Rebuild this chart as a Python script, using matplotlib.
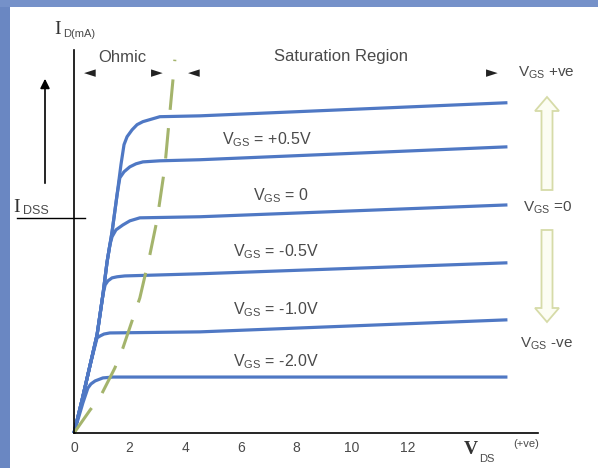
import matplotlib
matplotlib.use("Agg")
import matplotlib.pyplot as plt
from matplotlib.patches import FancyArrow, Rectangle

# JFET output characteristics, I_D (mA) against V_DS (V)
vds_pos = [0, 0.29, 0.58, 0.83, 1.04, 1.19, 1.37, 1.55, 1.69, 1.80, 1.91, 2.09, 2.27, 2.48, 3.09, 4.53, 15.6]
id_pos = [0, 1.53, 3.16, 4.56, 6.42, 7.95, 9.35, 11.07, 12.47, 13.4, 13.77, 14.09, 14.33, 14.47, 14.7, 14.74, 15.35]

vds_p05 = [0, 0.29, 0.58, 0.83, 1.04, 1.19, 1.37, 1.55, 1.65, 1.80, 2.01, 2.23, 2.48, 3.09, 4.53, 15.6]
id_p05 = [0, 1.53, 3.16, 4.56, 6.42, 7.95, 9.35, 11.07, 11.86, 12.14, 12.37, 12.51, 12.6, 12.65, 12.7, 13.3]

vds_0 = [0, 0.29, 0.58, 0.83, 1.04, 1.19, 1.29, 1.37, 1.51, 1.76, 2.01, 2.37, 4.53, 15.6]
id_0 = [0, 1.53, 3.16, 4.56, 6.42, 7.95, 8.74, 9.12, 9.44, 9.67, 9.86, 10.0, 10.05, 10.6]

vds_m05 = [0, 0.29, 0.58, 0.83, 1.04, 1.12, 1.22, 1.37, 1.55, 1.83, 4.53, 15.6]
id_m05 = [0, 1.53, 3.16, 4.56, 6.42, 6.88, 7.07, 7.21, 7.26, 7.30, 7.40, 7.91]

vds_m10 = [0, 0.29, 0.58, 0.83, 0.94, 1.08, 1.29, 4.53, 15.6]
id_m10 = [0, 1.53, 3.16, 4.42, 4.51, 4.60, 4.65, 4.70, 5.26]

vds_m20 = [0, 0.32, 0.50, 0.61, 0.76, 1.04, 1.40, 15.6]
id_m20 = [0, 1.40, 2.09, 2.28, 2.42, 2.56, 2.60, 2.60]

# pinch-off locus (green dashed)
vds_pinch = [0, 0.58, 0.94, 1.47, 1.76, 2.37, 2.73, 2.99, 3.27, 3.45, 3.63]
id_pinch = [0, 1.07, 1.67, 3.02, 3.95, 6.28, 8.28, 9.91, 12.37, 14.88, 17.35]

IDSS = 10.0
x_ticks = [0, 2, 4, 6, 8, 10, 12]
curve_labels = ["+0.5V", "0", "-0.5V", "-1.0V", "-2.0V"]

W, H = 598, 468
BLUE = "#4f78c4"
GREEN = "#a4b46c"
GREY = "#4a4a4a"

plt.rcParams["font.family"] = ["Liberation Sans", "DejaVu Sans"]

fig = plt.figure(figsize=(W / 100, H / 100), dpi=100)
fig.patch.set_facecolor("white")

# main axes: origin at (74, 433) px, top at 50 px, right end at 538 px
ax = fig.add_axes([74 / W, 1 - 433 / H, 464 / W, 383 / H])
ax.set_xlim(0, 16.7)
ax.set_ylim(0, 17.8)
ax.patch.set_alpha(0)
for s in ["top", "right"]:
    ax.spines[s].set_visible(False)
for s in ["left", "bottom"]:
    ax.spines[s].set_linewidth(1.2)
ax.set_yticks([])
ax.set_xticks(x_ticks)
ax.tick_params(axis="x", length=0, pad=6, labelsize=10, labelcolor=GREY)

curves = [(vds_pos, id_pos), (vds_p05, id_p05), (vds_0, id_0),
          (vds_m05, id_m05), (vds_m10, id_m10), (vds_m20, id_m20)]
for xs, ys in curves:
    ax.plot(xs, ys, color=BLUE, lw=2.3, solid_capstyle="butt", solid_joinstyle="round", clip_on=False)

ax.plot(vds_pinch, id_pinch, color=GREEN, lw=2.2, dashes=(10, 6), clip_on=False)

# I_DSS marker line, x in axes fraction, y in data
ax.plot([-0.123, 0.024], [IDSS, IDSS], color="black", lw=1.0,
        transform=ax.get_yaxis_transform(), clip_on=False)

# overlay in pixel coordinates for the annotations
ov = fig.add_axes([0, 0, 1, 1])
ov.set_xlim(0, W)
ov.set_ylim(H, 0)
ov.axis("off")
ov.patch.set_alpha(0)

# blue frame
ov.add_patch(Rectangle((0, 0), 10, H, color="#6a87c2", lw=0))
ov.add_patch(Rectangle((0, 0), W, 7, color="#7591c9", lw=0))

ov.text(54, 30, "I", fontsize=14, family="Liberation Serif", color="#333", va="center")
ov.text(63, 34, "D(mA)", fontsize=8, color=GREY, va="center")
ov.text(13, 207, "I", fontsize=14, family="Liberation Serif", color="#333", va="center")
ov.text(23, 211, "DSS", fontsize=9, color=GREY, va="center")

ov.annotate("", xy=(45, 76), xytext=(45, 186),
            arrowprops=dict(arrowstyle="-|>", color="black", lw=1.2, mutation_scale=14))

ov.text(122, 57, "Ohmic", fontsize=12, color=GREY, ha="center", va="center")
ov.text(341, 57, "Saturation Region", fontsize=12, color=GREY, ha="center", va="center")
for x, s in [(90, "\u25c4"), (157, "\u25ba"), (194, "\u25c4"), (492, "\u25ba")]:
    ov.text(x, 73, s, fontsize=11, family="DejaVu Sans", color="#222", ha="center", va="center")

ov.text(518, 73, r"V$_{\mathregular{GS}}$ +ve", fontsize=11, color=GREY, va="center")
ov.text(523, 208, r"V$_{\mathregular{GS}}$ =0", fontsize=11, color=GREY, va="center")
ov.text(520, 344, r"V$_{\mathregular{GS}}$ -ve", fontsize=11, color=GREY, va="center")

label_pos = [(222, 140), (253, 196), (233, 252), (233, 310), (233, 362)]
for (x, y), lab in zip(label_pos, curve_labels):
    ov.text(x, y, r"V$_{\mathregular{GS}}$ = " + lab, fontsize=11.5, color=GREY, va="center")

for y0, dy in [(190, -93), (230, 92)]:
    ov.add_patch(FancyArrow(547, y0, 0, dy, width=11, head_width=24, head_length=14,
                            length_includes_head=True, fc="#fcfdf3", ec="#d6dba8", lw=1.3))

ov.text(464, 450, "V", fontsize=14, family="Liberation Serif", fontweight="bold", color="#333", va="center")
ov.text(479, 459, "DS", fontsize=8, color=GREY, va="center")
ov.text(513, 444, "(+ve)", fontsize=8, color=GREY, va="center")

fig.savefig("out.png", dpi=100)
